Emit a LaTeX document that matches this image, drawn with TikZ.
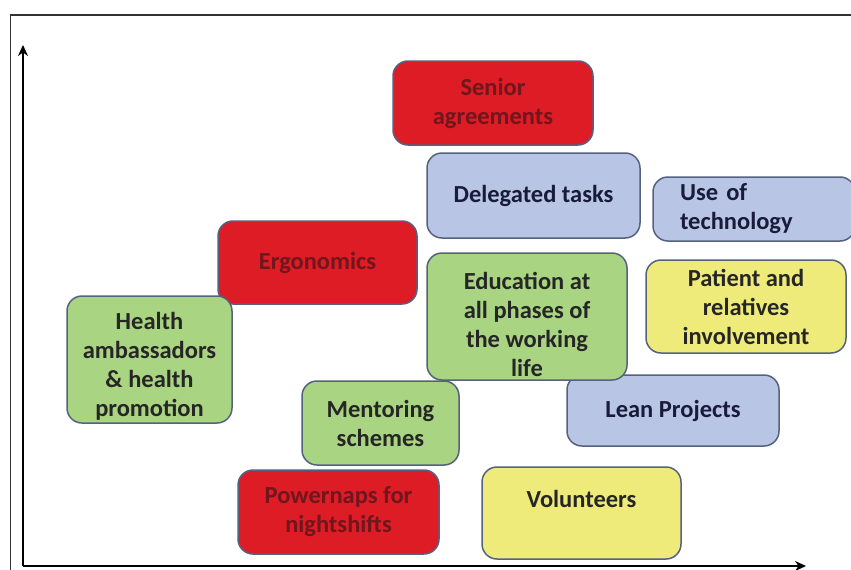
\documentclass[tikz,border=0pt]{standalone}
\usepackage{fontspec}
\setmainfont{Carlito}
\usepackage{tikz}
\usetikzlibrary{arrows.meta,calc}
\definecolor{boxred}{RGB}{221,28,38}
\definecolor{redtext}{RGB}{112,22,28}
\definecolor{boxblue}{RGB}{185,197,228}
\definecolor{bluetext}{RGB}{24,28,56}
\definecolor{boxgreen}{RGB}{169,212,130}
\definecolor{boxyellow}{RGB}{238,235,122}
\definecolor{edgecol}{RGB}{84,98,128}
\definecolor{framecol}{RGB}{50,50,50}
\tikzset{
  box/.style={draw=edgecol, line width=1.5pt, rounded corners=15pt, align=center,
    font=\fontsize{24.5}{29}\selectfont\bfseries, inner sep=0pt},
  redbox/.style={box, fill=boxred, text=redtext},
  bluebox/.style={box, fill=boxblue, text=bluetext},
  greenbox/.style={box, fill=boxgreen, text=black!85},
  yellowbox/.style={box, fill=boxyellow, text=black!85},
  boxtext/.style={align=center, font=\fontsize{24.5}{29}\selectfont\bfseries, inner sep=0pt},
  axis/.style={line width=2pt, -{Stealth[length=11pt, width=10pt]}}
}
\begin{document}
\begin{tikzpicture}[x=1pt, y=-1pt]
    \useasboundingbox (0,0) rectangle (851,570);
    \draw[framecol, line width=1.8pt] (10.5,600) |- (900,15);
    % axes
    \coordinate (origin) at (23,566);
    \coordinate (ytip) at (23,45);
    \coordinate (xtip) at (806,566);
    \draw[axis] (origin) -- (ytip);
    \draw[axis] (origin) -- (xtip);
    % red
    \node[redbox, minimum width=200pt, minimum height=84pt] (senior) at (493,103) {Senior\\agreements};
    \node[redbox, minimum width=199pt, minimum height=83pt] (ergo) at (317.5,262.5) {Ergonomics};
    \node[redbox, minimum width=201pt, minimum height=84pt] (power) at (338.5,512) {Powernaps for\\nightshifts};
    % blue
    \node[bluebox, minimum width=213pt, minimum height=85pt] (deleg) at (533.5,195.5) {Delegated tasks};
    \node[bluebox, text width=148pt, inner xsep=27pt, minimum height=64pt, align=left] (tech) at (754,209) {Use of\\technology};
    \node[bluebox, minimum width=212pt, minimum height=71pt] (lean) at (673,410.5) {Lean Projects};
    % green
    \node[greenbox, minimum width=200pt, minimum height=127pt] (educ) at (527,316.5) {};
    \node[boxtext, text=black!85] (educ-t) at ([yshift=-8pt]educ.center) {Education at\\all phases of\\the working\\life};
    \node[greenbox, minimum width=165pt, minimum height=127pt] (health) at (149.5,359.5) {};
    \node[boxtext, text=black!85] (health-t) at ([yshift=-7pt]health.center) {Health\\ambassadors\\\& health\\promotion};
    \node[greenbox, minimum width=157pt, minimum height=84pt] (mentor) at (380.5,423) {Mentoring\\schemes};
    % yellow
    \node[yellowbox, minimum width=200pt, minimum height=93pt] (patient) at (746,306.5) {Patient and\\relatives\\involvement};
    \node[yellowbox, minimum width=199pt, minimum height=92pt] (vol) at (581.5,513) {};
    \node[boxtext, text=black!85] (vol-t) at ([yshift=14pt]vol.center) {Volunteers};
\end{tikzpicture}
\end{document}
